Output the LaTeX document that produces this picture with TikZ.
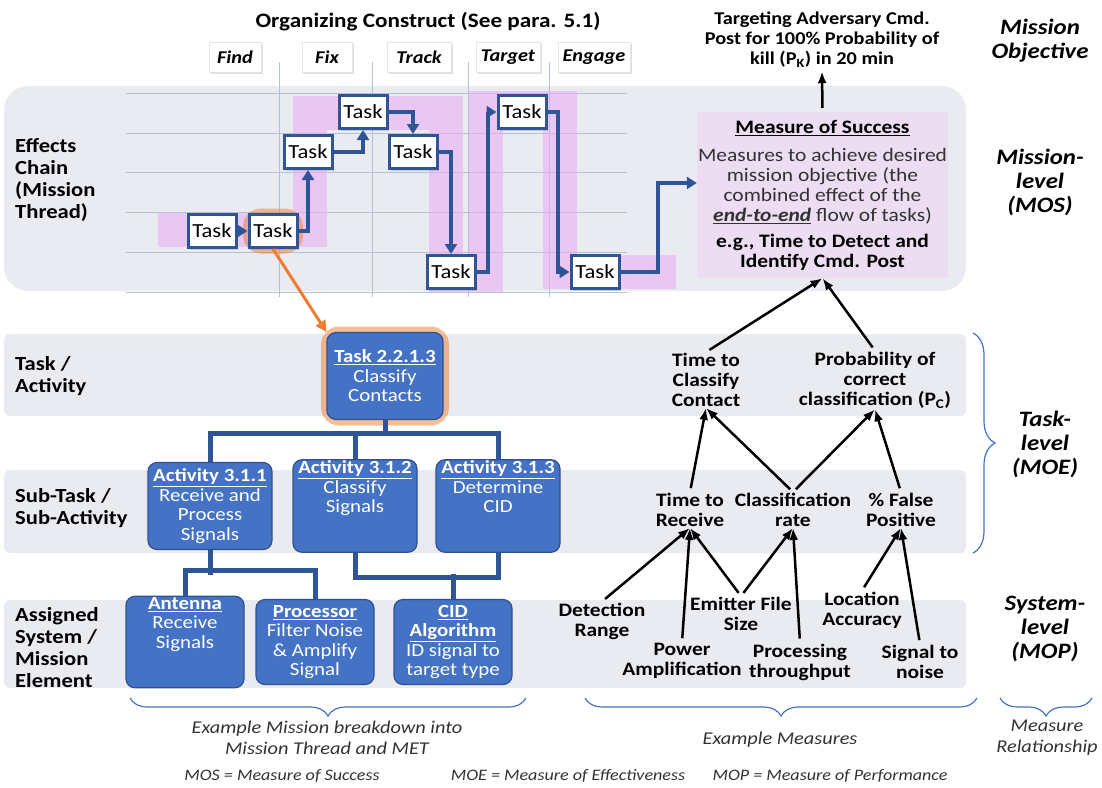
\documentclass[tikz,border=0pt]{standalone}
\usepackage{fontspec}
\setmainfont{Carlito}[FakeStretch=1.13]
\usetikzlibrary{arrows.meta,shadows,decorations.pathreplacing}
\definecolor{bandgray}{RGB}{233,235,240}
\definecolor{taskblue}{RGB}{47,85,151}
\definecolor{boxblue}{RGB}{68,114,196}
\definecolor{boxedge}{RGB}{47,82,143}
\definecolor{hilite}{RGB}{236,170,245}
\definecolor{mospink}{RGB}{236,221,243}
\definecolor{glow}{RGB}{237,125,49}
\definecolor{gridline}{RGB}{180,192,212}
\definecolor{txtgray}{RGB}{50,50,50}
\begin{document}
\begin{tikzpicture}[x=1pt,y=-1pt]
	\tikzstyle{task}=[draw=taskblue,fill=white,line width=3pt,minimum width=48,minimum height=33,inner sep=0pt,font=\fontsize{20}{20}\selectfont,drop shadow={shadow xshift=2pt,shadow yshift=-2pt,opacity=.3}];
	\tikzstyle{phase}=[draw=gray!20,fill=white,minimum height=30,inner sep=2pt,font=\bfseries\itshape\fontsize{18}{18}\selectfont,drop shadow={shadow xshift=1.5pt,shadow yshift=-1.5pt,opacity=.25}];
	\tikzstyle{flow}=[draw=taskblue,line width=4pt,-{Triangle[length=10pt,width=12pt]}];
	\tikzstyle{tree}=[draw=taskblue,line width=5pt];
	\tikzstyle{activity}=[fill=boxblue,draw=boxedge,line width=1.2pt,rounded corners=9,text=white,align=center,inner sep=1pt,font=\fontsize{18.5}{19.5}\selectfont];
	\tikzstyle{glowbox}=[draw=glow,line width=12pt,opacity=.5,rounded corners=12];
	\tikzstyle{rowlabel}=[anchor=west,align=left,inner sep=0pt,font=\bfseries\fontsize{20}{22}\selectfont];
	\tikzstyle{levellabel}=[align=center,inner sep=0pt,font=\bfseries\itshape\fontsize{22}{24}\selectfont];
	\tikzstyle{measure}=[align=center,inner sep=1pt,font=\bfseries\fontsize{19}{20}\selectfont];
	\tikzstyle{meas}=[draw=black,line width=2.5pt,shorten <=4pt,-{Latex[length=12pt,width=9pt]}];
	\tikzstyle{bracket}=[draw=boxblue,line width=1.2pt,decorate,decoration={brace,amplitude=18pt,aspect=.5}];
	\tikzstyle{note}=[align=center,inner sep=0pt,text=txtgray,font=\itshape\fontsize{18}{21}\selectfont];

	\useasboundingbox (0,0) rectangle (1102,787);

	\path[fill=bandgray,rounded corners=24] (4,86) rectangle (966,291);
	\path[fill=bandgray,rounded corners=6] (4,334) rectangle (966,416);
	\path[fill=bandgray,rounded corners=6] (4,470) rectangle (966,553);
	\path[fill=bandgray,rounded corners=6] (4,600) rectangle (966,688);

	\foreach \y in {93,133,172,212,252,292}
		\path[draw=gridline,line width=1pt] (126,\y) -- (627,\y);
	\foreach \x in {279,372,468,549}
		\path[draw=gridline,line width=1pt] (\x,62) -- (\x,297);

	\path[draw=hilite,line width=34pt,opacity=.55] (158,230) -- (310,230) -- (310,113) -- (446,113) -- (446,275) -- (486,275) -- (486,108) -- (560,108) -- (560,272) -- (676,272);

	\path (428,22) node[font=\bfseries\fontsize{20.5}{20.5}\selectfont] (construct) {Organizing Construct (See para. 5.1)};
	\path (235,57) node[phase,minimum width=52] (find) {Find};
	\path (327,57) node[phase,minimum width=50] (fix) {Fix};
	\path (419,57) node[phase,minimum width=64] (track) {Track};
	\path (508,57) node[phase,minimum width=64] (target) {Target};
	\path (594,57) node[phase,minimum width=72] (engage) {Engage};

	\path (273,231) node[glowbox,minimum width=48,minimum height=33] {};
	\path (212,231) node[task] (t1) {Task};
	\path (273,231) node[task] (t2) {Task};
	\path (308,152) node[task] (t3) {Task};
	\path (363,112) node[task] (t4) {Task};
	\path (413,152) node[task] (t5) {Task};
	\path (451,272) node[task] (t6) {Task};
	\path (522,112) node[task] (t7) {Task};
	\path (595,272) node[task] (t8) {Task};

	\path (822.5,195) node[fill=mospink,minimum width=251,minimum height=166] (mos) {};
	\path (822.5,128) node[font=\bfseries\fontsize{19}{19}\selectfont] (mostitle) {\underline{Measure of Success}};
	\path (822.5,186) node[align=center,text=txtgray,font=\fontsize{19}{20}\selectfont] (mosbody) {Measures to achieve desired\\mission objective (the\\combined effect of the\\\textbf{\textit{\underline{end-to-end}}} flow of tasks)};
	\path (822.5,252) node[align=center,font=\bfseries\fontsize{19}{20}\selectfont] (mosex) {e.g., Time to Detect and\\Identify Cmd. Post};
	\path (822,40) node[align=center,font=\bfseries\fontsize{18}{20}\selectfont] (objective) {Targeting Adversary Cmd.\\Post for 100\% Probability of\\kill (P\textsubscript{K}) in 20 min};

	\path[flow] (t1) -- (t2);
	\path[flow] (t2.east) -| (t3.south);
	\path[flow] (t3.east) -| (t4.south);
	\path[flow] (t4.east) -| (t5.north);
	\path[flow] (t5.east) -| (t6.north);
	\path[flow] (t6.east) -- ++(11,0) |- (t7.west);
	\path[flow] (t7.east) -- ++(10,0) |- (t8.west);
	\path[flow] (t8.east) -- ++(37,0) |- ([yshift=12pt]mos.west);
	\path[meas] (mos.north) -- (objective.south);

	\path (15,180) node[rowlabel] (effects) {Effects\\Chain\\(Mission\\Thread)};
	\path (15,376) node[rowlabel] (tasklbl) {Task /\\Activity};
	\path (15,508) node[rowlabel] (sublbl) {Sub-Task /\\Sub-Activity};
	\path (15,648) node[rowlabel] (syslbl) {Assigned\\System /\\Mission\\Element};

	\path (1040,41) node[levellabel] (lvlobj) {Mission\\Objective};
	\path (1040,182) node[levellabel] (lvlmos) {Mission-\\level\\(MOS)};
	\path (1045,444) node[levellabel] (lvlmoe) {Task-\\level\\(MOE)};
	\path (1045,629) node[levellabel] (lvlmop) {System-\\level\\(MOP)};

	\path (385,376) node[glowbox,minimum width=116,minimum height=87] {};
	\path (385,376) node[activity,minimum width=116,minimum height=87] (ct) {\textbf{\underline{Task 2.2.1.3}}\\Classify\\Contacts};
	\path (210,506) node[activity,minimum width=124,minimum height=87] (a1) {\textbf{\underline{Activity 3.1.1}}\\Receive and\\Process\\Signals};
	\path (355,506) node[activity,minimum width=124,minimum height=87] (a2) {\textbf{\underline{Activity 3.1.2}}\\Classify\\Signals\\[19pt]};
	\path (498,506) node[activity,minimum width=124,minimum height=87] (a3) {\textbf{\underline{Activity 3.1.3}}\\Determine\\CID\\[19pt]};
	\path (185,642) node[activity,minimum width=118,minimum height=85] (s1) {\textbf{\underline{Antenna}}\\Receive\\Signals\\[19pt]};
	\path (315,642) node[activity,minimum width=118,minimum height=85] (s2) {\textbf{\underline{Processor}}\\Filter Noise\\\& Amplify\\Signal};
	\path (453,642) node[activity,minimum width=118,minimum height=85] (s3) {\textbf{\underline{CID}}\\\textbf{\underline{Algorithm}}\\ID signal to\\target type};

	\path[tree] (ct.south) -- ++(0,15);
	\path[tree] (a1.north) -- ++(0,-28) -| (a3.north);
	\path[tree] (a2.north) -- ++(0,-28);
	\path[tree] (a1.south) -- ++(0,25);
	\path[tree] (s1.north) -- ++(0,-25) -| (s2.north);
	\path[tree] (a2.south) -- ++(0,25) -| (a3.south);
	\path[tree] (s3.north) -- ++(0,-25);
	\path[draw=glow,line width=3pt,-{Triangle[length=11pt,width=11pt]}] (t2.south) -- (ct.north west);

	\path (706,380) node[measure] (tcc) {Time to\\Classify\\Contact};
	\path (875,380) node[measure] (pcc) {Probability of\\correct\\classification (P\textsubscript{C})};
	\path (690,510) node[measure] (ttr) {Time to\\Receive};
	\path (793,510) node[measure] (crate) {Classification\\rate};
	\path (901,510) node[measure] (fpos) {\% False\\Positive};
	\path (602,621) node[measure] (drange) {Detection\\Range};
	\path (682,661) node[measure] (power) {Power\\Amplification};
	\path (741,614) node[measure] (emitter) {Emitter File\\Size};
	\path (800,662) node[measure] (proc) {Processing\\throughput};
	\path (862,610) node[measure] (loc) {Location\\Accuracy};
	\path (920,662) node[measure] (snr) {Signal to\\noise};

	\path[meas] (tcc.north) -- (mos.south);
	\path[meas] (pcc.north) -- (mos.south);
	\path[meas] (ttr.north) -- (tcc.south);
	\path[meas] (crate.north) -- (tcc.south);
	\path[meas] (crate.north) -- (pcc.south);
	\path[meas] (fpos.north) -- (pcc.south);
	\path[meas] (drange.north) -- (ttr.south);
	\path[meas] (power.north) -- (ttr.south);
	\path[meas] (emitter.north) -- (ttr.south);
	\path[meas] (emitter.north) -- (crate.south);
	\path[meas] (proc.north) -- (crate.south);
	\path[meas] (loc.north) -- (fpos.south);
	\path[meas] (snr.north) -- (fpos.south);

	\path[bracket,decoration={amplitude=22pt}] (973,333) -- (973,553);
	\path[bracket] (526,698) -- (130,698);
	\path[bracket] (977,698) -- (585,698);
	\path[bracket] (1092,698) -- (1000,698);

	\path (327,738) node[note] (breakdown) {Example Mission breakdown into\\Mission Thread and MET};
	\path (780,740) node[note] (examples) {Example Measures};
	\path (1047,738) node[note] (relation) {Measure\\Relationship};
	\path (282,776) node[note,font=\itshape\fontsize{16}{16}\selectfont] (mosdef) {MOS = Measure of Success};
	\path (568,776) node[note,font=\itshape\fontsize{16}{16}\selectfont] (moedef) {MOE = Measure of Effectiveness};
	\path (830,776) node[note,font=\itshape\fontsize{16}{16}\selectfont] (mopdef) {MOP = Measure of Performance};
\end{tikzpicture}
\end{document}
